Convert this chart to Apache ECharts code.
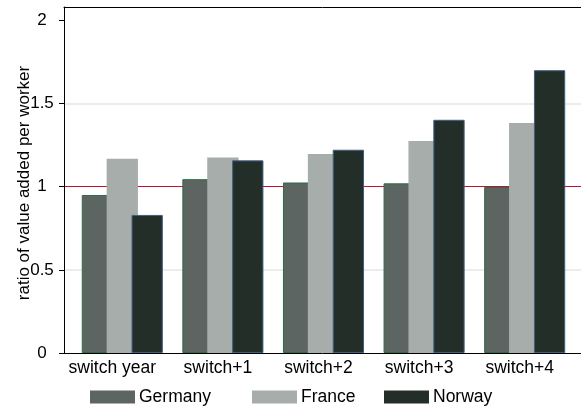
<!DOCTYPE html>
<html><head><meta charset="utf-8">
<script src="https://cdn.jsdelivr.net/npm/echarts@6/dist/echarts.min.js"></script>
<style>html,body{margin:0;padding:0;background:#fff}#c{width:581px;height:407px}</style>
</head><body><div id="c"></div>
<script>
const categories = ['switch year', 'switch+1', 'switch+2', 'switch+3', 'switch+4'];
const seriesNames = ['Germany', 'France', 'Norway'];
const germany = [0.95, 1.045, 1.025, 1.02, 0.998];
const france = [1.168, 1.176, 1.196, 1.274, 1.382];
const norway = [0.83, 1.158, 1.222, 1.402, 1.70];
const yTicks = [0, 0.5, 1, 1.5, 2];
const gridValues = [0.5, 1.5];
const refValue = 1;
const yMax = 2.08;
const yTitle = 'ratio of value added per worker';

const FONT = 'Liberation Sans, Arial, Helvetica, sans-serif';
const colors = ['#5c6562', '#a6adab', '#232e29'];
const borders = ['#2f6a45', '#a6adab', '#3d5f85'];
const values = [germany, france, norway];

const chart = echarts.init(document.getElementById('c'), null, {renderer: 'canvas'});

const markData = gridValues.map(v => ({yAxis: v, lineStyle: {color: '#e6e6e6', width: 1.6, type: 'solid'}}))
  .concat([{yAxis: refValue, lineStyle: {color: '#c8102e', width: 1.2, type: 'solid'}}]);

const option = {
  animation: false,
  backgroundColor: '#fff',
  textStyle: {fontFamily: FONT},
  grid: [
    {left: 64, top: 7, right: -30, bottom: 54, containLabel: false},
    {left: 72, top: 7, width: 503, bottom: 54, containLabel: false}
  ],
  xAxis: [
    {gridIndex: 0, type: 'value', min: 0, max: 1, position: 'bottom', z: 10,
     axisLine: {show: true, lineStyle: {color: '#000', width: 1}}, axisTick: {show: false},
     axisLabel: {show: false}, splitLine: {show: false}},
    {gridIndex: 0, type: 'value', min: 0, max: 1, position: 'top', z: 10,
     axisLine: {show: true, lineStyle: {color: '#000', width: 1}}, axisTick: {show: false},
     axisLabel: {show: false}, splitLine: {show: false}},
    {gridIndex: 1, type: 'category', data: categories, boundaryGap: true,
     axisLine: {show: false}, axisTick: {show: false}, splitLine: {show: false},
     axisLabel: {show: true, margin: 6, color: '#000', fontSize: 17.5, fontFamily: FONT, interval: 0,
       formatter: (v, i) => (i === 0 ? '{f|' + v + '}' : '{o|' + v + '}'),
       rich: {
         f: {fontSize: 17.5, fontFamily: FONT, color: '#000', padding: [0, 20, 0, 0]},
         o: {fontSize: 17.5, fontFamily: FONT, color: '#000', padding: [0, 10, 0, 0]}
       }}}
  ],
  yAxis: [
    {gridIndex: 0, type: 'value', min: 0, max: yMax, z: 10,
     name: yTitle, nameLocation: 'middle', nameGap: 31, nameRotate: 90, nameMoveOverlap: false,
     nameTextStyle: {fontSize: 17, color: '#000', fontFamily: FONT, padding: [0, 6, 0, 0]},
     axisLine: {show: true, lineStyle: {color: '#000', width: 1}},
     axisTick: {show: true, length: 5, customValues: yTicks, lineStyle: {color: '#000', width: 1}},
     axisLabel: {show: true, customValues: yTicks, align: 'center', margin: 22, color: '#000', fontSize: 17, fontFamily: FONT},
     splitLine: {show: false}},
    {gridIndex: 1, type: 'value', min: 0, max: yMax, show: false, splitLine: {show: false}}
  ],
  legend: seriesNames.map((n, i) => ({
    data: [n], left: [90, 252, 384][i], top: 388, padding: 0,
    itemWidth: 45, itemHeight: 13, icon: 'rect',
    itemStyle: {borderWidth: 0},
    textStyle: {fontSize: 17.5, color: '#000', fontFamily: FONT, padding: [0, 0, 0, -1]}
  })),
  series: [
    {type: 'line', xAxisIndex: 0, yAxisIndex: 0, data: [], silent: true, z: 1,
     markLine: {silent: true, z: 1, symbol: 'none', label: {show: false}, animation: false,
       emphasis: {disabled: true}, data: markData}}
  ].concat(seriesNames.map((n, i) => ({
    name: n, type: 'bar', xAxisIndex: 2, yAxisIndex: 1, data: values[i], z: 3,
    barWidth: 31.3, barGap: '-20.5%',
    itemStyle: {color: colors[i], borderColor: borders[i], borderWidth: i === 1 ? 0 : 1},
    emphasis: {disabled: true}
  })))
};
chart.setOption(option);
</script></body></html>
